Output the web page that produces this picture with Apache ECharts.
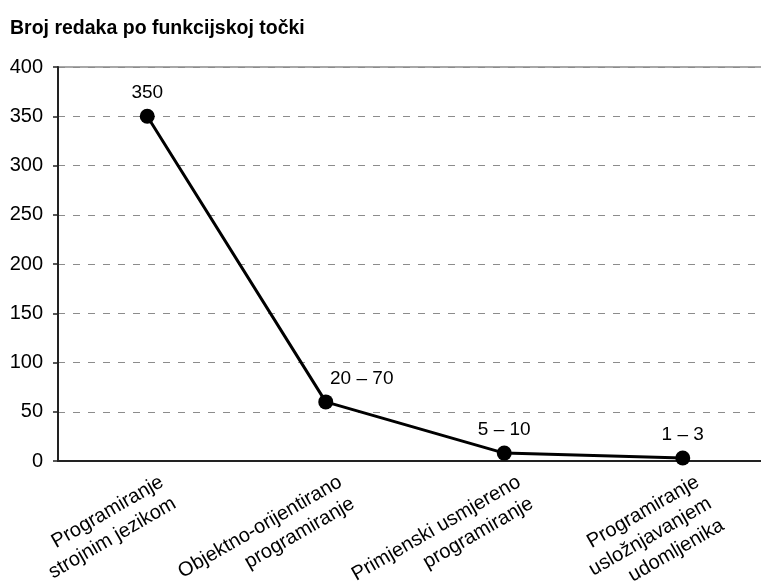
<!DOCTYPE html>
<html>
<head>
<meta charset="utf-8">
<script src="https://cdn.jsdelivr.net/npm/echarts@6/dist/echarts.min.js"></script>
<style>
  html, body { margin: 0; padding: 0; background: #fff; }
  #chart { width: 761px; height: 583px; }
</style>
</head>
<body>
<div id="chart"></div>
<script>
// Lines of code per function point, by programming approach
const categories = [
  'Programiranje\nstrojnim jezikom',
  'Objektno-orijentirano\nprogramiranje',
  'Primjenski usmjereno\nprogramiranje',
  'Programiranje\nusložnjavanjem\nudomljenika'
];
const lineValues = [350, 60, 8, 3];
const valueLabels = ['350', '20 – 70', '5 – 10', '1 – 3'];
const yMin = 0;
const yMax = 400;
const yStep = 50;

const FONT = '"Liberation Sans", Arial, sans-serif';

const chart = echarts.init(document.getElementById('chart'), null, { renderer: 'canvas' });

const seriesData = lineValues.map((v, i) => {
  const item = { value: v, label: { formatter: valueLabels[i] } };
  if (i === 1) item.label.offset = [36, 0];
  return item;
});

chart.setOption({
  animation: false,
  backgroundColor: '#ffffff',
  title: {
    text: 'Broj redaka po funkcijskoj točki',
    left: 5,
    top: 14,
    textStyle: { fontFamily: FONT, fontSize: 19.5, fontWeight: 'bold', color: '#000' }
  },
  grid: {
    left: 58,
    top: 67,
    width: 714,
    height: 394,
    show: true,
    borderColor: '#8c8c8c',
    borderWidth: 1.5,
    containLabel: false,
    outerBoundsMode: 'none'
  },
  xAxis: {
    type: 'category',
    data: categories,
    boundaryGap: true,
    axisLine: { lineStyle: { color: '#222', width: 2 } },
    axisTick: { show: false },
    splitLine: { show: false },
    axisLabel: {
      interval: 0,
      rotate: 30,
      align: 'right',
      verticalAlign: 'top',
      margin: -6,
      padding: [17, 0, 0, 0],
      color: '#000',
      fontFamily: FONT,
      fontSize: 20,
      lineHeight: 25
    }
  },
  yAxis: {
    type: 'value',
    min: yMin,
    max: yMax,
    interval: yStep,
    axisLine: { show: true, lineStyle: { color: '#222', width: 2 } },
    axisTick: { show: true, length: 5, lineStyle: { color: '#222', width: 1.5 } },
    axisLabel: { margin: 15, color: '#000', fontFamily: FONT, fontSize: 20 },
    splitLine: { show: true, lineStyle: { color: '#8c8c8c', width: 1, type: [7, 8] } }
  },
  series: [{
    type: 'line',
    data: seriesData,
    symbol: 'circle',
    symbolSize: 15,
    lineStyle: { color: '#000', width: 3 },
    itemStyle: { color: '#000' },
    label: {
      show: true,
      position: 'top',
      distance: 6,
      color: '#000',
      fontFamily: FONT,
      fontSize: 19
    }
  }]
});
</script>
</body>
</html>
